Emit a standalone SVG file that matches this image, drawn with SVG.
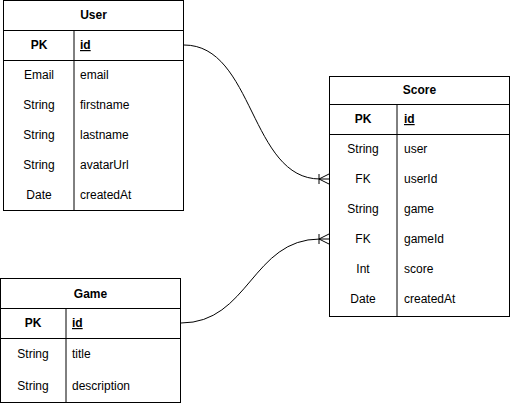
<svg xmlns="http://www.w3.org/2000/svg" width="510" height="403" viewBox="0 0 510 403">
  <style>
    .box { fill: #ffffff; stroke: #000000; stroke-width: 1; }
    .sep { fill: none; stroke: #000000; stroke-width: 1; }
    .col { fill: none; stroke: #000000; stroke-width: 1; }
    text { font-family: "Liberation Sans", Arial, Helvetica, sans-serif; font-size: 12px; fill: #000000; }
    .title { font-weight: bold; text-anchor: middle; }
    .key { font-weight: bold; text-anchor: middle; }
    .pk { font-weight: bold; text-decoration: underline; }
    .type { text-anchor: middle; }
    .edge { fill: none; stroke: #000000; stroke-width: 1; }
  </style>
  <defs>
    <!-- crow's foot with a bar: one-to-many, drawn pointing right at (0,0) -->
    <g id="oneToMany">
      <path class="edge" d="M-10,0 L0,0 M0,-5 L-10,0 L0,5 M-10,-5 L-10,5"/>
    </g>
  </defs>

  <!-- relations -->
  <g id="connectors">
    <path class="edge" d="M184,45 C254,45 250,179 320,179"/>
    <use href="#oneToMany" x="329" y="179"/>
    <path class="edge" d="M181,323 C249,323 252,239 320,239"/>
    <use href="#oneToMany" x="329" y="239"/>
  </g>

  <!-- User table -->
  <g id="user">
    <rect class="box" x="3.5" y="0.5" width="180" height="210"/>
    <path class="sep" d="M3.5,30.5 H183.5 M3.5,60.5 H183.5"/>
    <path class="col" d="M74,30.5 V210.5"/>
    <text class="title" x="93.5" y="19">User</text>
    <text class="key" x="39" y="49">PK</text>
    <text class="pk" x="80" y="49">id</text>
    <text class="type" x="39" y="79">Email</text>
    <text x="80" y="79">email</text>
    <text class="type" x="39" y="109">String</text>
    <text x="80" y="109">firstname</text>
    <text class="type" x="39" y="139">String</text>
    <text x="80" y="139">lastname</text>
    <text class="type" x="39" y="169">String</text>
    <text x="80" y="169">avatarUrl</text>
    <text class="type" x="39" y="199">Date</text>
    <text x="80" y="199">createdAt</text>
  </g>

  <!-- Score table -->
  <g id="score">
    <rect class="box" x="329.5" y="76.5" width="180" height="240"/>
    <path class="sep" d="M329.5,104.5 H509.5 M329.5,134.5 H509.5"/>
    <path class="col" d="M397,104.5 V316.5"/>
    <text class="title" x="419.5" y="94">Score</text>
    <text class="key" x="363" y="123">PK</text>
    <text class="pk" x="404" y="123">id</text>
    <text class="type" x="363" y="153">String</text>
    <text x="404" y="153">user</text>
    <text class="type" x="363" y="183">FK</text>
    <text x="404" y="183">userId</text>
    <text class="type" x="363" y="213">String</text>
    <text x="404" y="213">game</text>
    <text class="type" x="363" y="243">FK</text>
    <text x="404" y="243">gameId</text>
    <text class="type" x="363" y="273">Int</text>
    <text x="404" y="273">score</text>
    <text class="type" x="363" y="303">Date</text>
    <text x="404" y="303">createdAt</text>
  </g>

  <!-- Game table -->
  <g id="game">
    <rect class="box" x="0.5" y="278.5" width="180" height="124"/>
    <path class="sep" d="M0.5,308.5 H180.5 M0.5,338.5 H180.5"/>
    <path class="col" d="M66,308.5 V402.5"/>
    <text class="title" x="90.5" y="298">Game</text>
    <text class="key" x="33" y="327">PK</text>
    <text class="pk" x="72" y="327">id</text>
    <text class="type" x="33" y="358">String</text>
    <text x="72" y="358">title</text>
    <text class="type" x="33" y="390">String</text>
    <text x="72" y="390">description</text>
  </g>
</svg>
